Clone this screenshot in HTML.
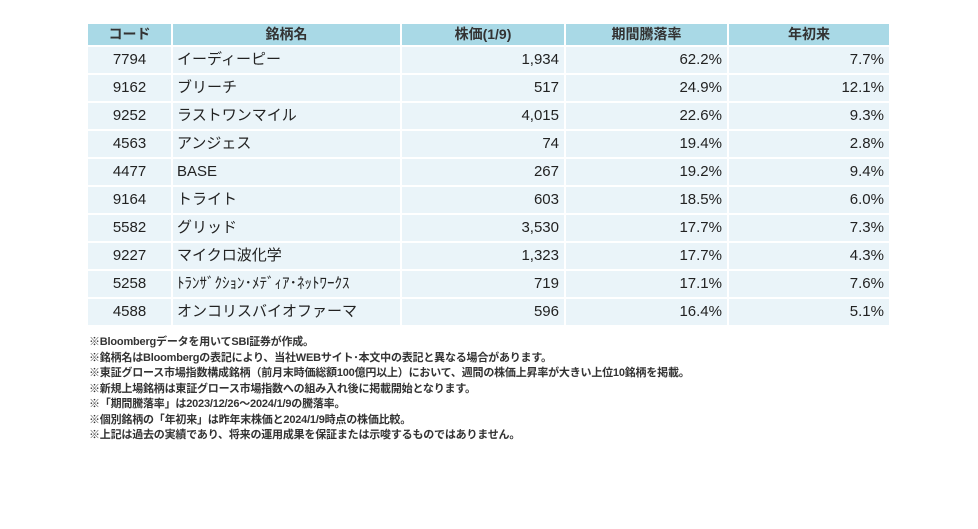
<!DOCTYPE html>
<html><head><meta charset="utf-8"><style>
body{margin:0;width:978px;height:529px;background:#fff;position:relative;overflow:hidden;font-family:"Liberation Sans","Noto Sans CJK JP",sans-serif;color:#222}
.c{position:absolute;box-sizing:border-box;font-size:15px;line-height:26px;white-space:nowrap;background:#eaf4f9}
.h{background:#a9d9e6;line-height:21px;height:21px;text-align:center;font-weight:bold;color:#333;font-size:14px}
.r{text-align:right;padding-right:5px}
.n{padding-left:4px}
.k{text-align:center}
.f{position:absolute;left:89px;font-size:11px;font-weight:bold;color:#333;white-space:nowrap;letter-spacing:-0.2px}
</style></head><body>
<div id="t"></div>
<div class="f" style="top:333px">※Bloombergデータを用いてSBI証券が作成。</div>
<div class="f" style="top:348.5px">※銘柄名はBloombergの表記により、当社WEBサイト･本文中の表記と異なる場合があります。</div>
<div class="f" style="top:364px">※東証グロース市場指数構成銘柄（前月末時価総額100億円以上）において、週間の株価上昇率が大きい上位10銘柄を掲載。</div>
<div class="f" style="top:379.5px">※新規上場銘柄は東証グロース市場指数への組み入れ後に掲載開始となります。</div>
<div class="f" style="top:395px">※「期間騰落率」は2023/12/26～2024/1/9の騰落率。</div>
<div class="f" style="top:410.5px">※個別銘柄の「年初来」は昨年末株価と2024/1/9時点の株価比較。</div>
<div class="f" style="top:426px">※上記は過去の実績であり、将来の運用成果を保証または示唆するものではありません。</div>
<script>
var cols=[[88,83,'k'],[173,227,'n'],[402,162,'r'],[566,161,'r'],[729,160,'r']];
var hd=['コード','銘柄名','株価(1/9)','期間騰落率','年初来'];
var d=[['7794','イーディーピー','1,934','62.2%','7.7%'],['9162','ブリーチ','517','24.9%','12.1%'],['9252','ラストワンマイル','4,015','22.6%','9.3%'],['4563','アンジェス','74','19.4%','2.8%'],['4477','BASE','267','19.2%','9.4%'],['9164','トライト','603','18.5%','6.0%'],['5582','グリッド','3,530','17.7%','7.3%'],['9227','マイクロ波化学','1,323','17.7%','4.3%'],['5258','ﾄﾗﾝｻﾞｸｼｮﾝ･ﾒﾃﾞｨｱ･ﾈｯﾄﾜｰｸｽ','719','17.1%','7.6%'],['4588','オンコリスバイオファーマ','596','16.4%','5.1%']];
var h='';
cols.forEach(function(c,j){h+='<div class="c h" style="left:'+c[0]+'px;top:24px;width:'+c[1]+'px">'+hd[j]+'</div>';});
d.forEach(function(r,i){cols.forEach(function(c,j){h+='<div class="c '+c[2]+'" style="left:'+c[0]+'px;top:'+(47+28*i)+'px;width:'+c[1]+'px;height:26px">'+r[j]+'</div>';});});
document.getElementById('t').innerHTML=h;
</script>
</body></html>
